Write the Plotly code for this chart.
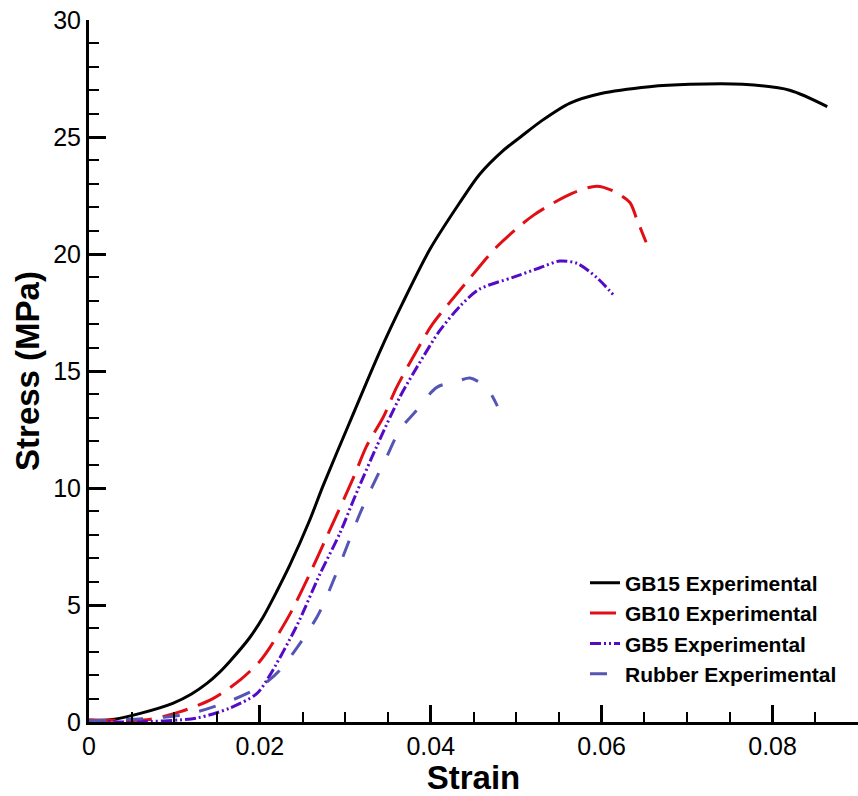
import plotly.graph_objects as go

# ---- data ----
gb15_strain = [0, 0.003, 0.006, 0.0098, 0.012, 0.0138, 0.0152, 0.0165, 0.0188, 0.0204, 0.022, 0.0235,
               0.0258, 0.0274, 0.0305, 0.034, 0.0367, 0.0399, 0.0434, 0.0457, 0.0484,
               0.0505, 0.053, 0.0563, 0.0598, 0.0656, 0.0703, 0.0765, 0.082, 0.0864]
gb15_stress = [0.05, 0.12, 0.37, 0.8, 1.2, 1.65, 2.1, 2.6, 3.6, 4.5, 5.6, 6.7,
               8.6, 10.1, 12.8, 15.8, 17.9, 20.2, 22.2, 23.4, 24.4,
               25.0, 25.7, 26.45, 26.85, 27.15, 27.25, 27.25, 27.0, 26.3]

gb10_strain = [0, 0.0068, 0.0106, 0.0145, 0.0177, 0.02, 0.0212, 0.0235, 0.0258, 0.0278,
               0.0309, 0.0325, 0.0344, 0.036, 0.0384, 0.0402, 0.0442, 0.0477, 0.052,
               0.0566, 0.0594, 0.0613, 0.0633, 0.0641, 0.0652]
gb10_stress = [0.1, 0.1, 0.43, 1.0, 1.8, 2.6, 3.2, 4.6, 6.3, 7.9,
               10.4, 11.8, 13.0, 14.3, 15.9, 17.0, 18.8, 20.3, 21.65,
               22.6, 22.9, 22.7, 22.2, 21.5, 20.5]

gb5_strain = [0, 0.005, 0.0126, 0.0165, 0.0196, 0.021, 0.0243, 0.027, 0.0294, 0.0312,
              0.0337, 0.0364, 0.0391, 0.041, 0.0435, 0.0457, 0.0496, 0.0527, 0.0551,
              0.0571, 0.0594, 0.0615]
gb5_stress = [0.05, 0.0, 0.17, 0.6, 1.2, 1.9, 4.1, 6.3, 8.1, 9.7,
              11.8, 13.9, 15.6, 16.7, 17.8, 18.5, 19.0, 19.4, 19.7,
              19.6, 19.0, 18.2]

rubber_strain = [0, 0.0087, 0.0126, 0.0165, 0.02, 0.0223, 0.0267, 0.029, 0.0305, 0.0317,
                 0.0332, 0.0348, 0.0364, 0.0383, 0.0407, 0.0434, 0.0446, 0.0465, 0.0478]
rubber_stress = [0.05, 0.2, 0.43, 0.9, 1.5, 2.2, 4.5, 6.4, 7.8, 8.9,
                 10.1, 11.3, 12.5, 13.3, 14.3, 14.6, 14.7, 14.3, 13.5]

series_names = ["GB15 Experimental", "GB10 Experimental", "GB5 Experimental", "Rubber Experimental"]

x_tickvals = [0, 0.02, 0.04, 0.06, 0.08]
x_ticktext = ["0", "0.02", "0.04", "0.06", "0.08"]
y_tickvals = [0, 5, 10, 15, 20, 25, 30]
y_ticktext = ["0", "5", "10", "15", "20", "25", "30"]

FONT = "Liberation Sans, Arial, sans-serif"

fig = go.Figure()
fig.add_trace(go.Scatter(x=gb15_strain, y=gb15_stress, mode="lines", name=series_names[0],
                         line=dict(color="black", width=3, dash="solid", shape="spline", smoothing=0.8)))
fig.add_trace(go.Scatter(x=gb10_strain, y=gb10_stress, mode="lines", name=series_names[1],
                         line=dict(color="rgb(225,15,20)", width=3, dash="26px,11px",
                                   shape="spline", smoothing=0.8)))
fig.add_trace(go.Scatter(x=gb5_strain, y=gb5_stress, mode="lines", name=series_names[2],
                         line=dict(color="rgb(85,10,200)", width=3,
                                   dash="11px,3px,2px,3px,2px,3px", shape="spline", smoothing=0.8)))
fig.add_trace(go.Scatter(x=rubber_strain, y=rubber_stress, mode="lines", name=series_names[3],
                         line=dict(color="rgb(85,85,180)", width=3, dash="17px,20px",
                                   shape="spline", smoothing=0.8)))

axis_common = dict(
    showline=True, linecolor="black", linewidth=3, mirror=False,
    showgrid=False, zeroline=False,
    ticks="inside", ticklen=17, tickwidth=3, tickcolor="black",
    tickfont=dict(family=FONT, size=25, color="black"),
)

fig.update_xaxes(
    range=[0, 0.09], tickvals=x_tickvals, ticktext=x_ticktext,
    minor=dict(ticks="inside", dtick=0.005, tick0=0, ticklen=10, tickwidth=2, tickcolor="black"),
    title=dict(text="<b>Strain</b>", font=dict(family=FONT, size=33, color="black"), standoff=6),
    **axis_common,
)
fig.update_yaxes(
    range=[0, 30], tickvals=y_tickvals, ticktext=y_ticktext,
    minor=dict(ticks="inside", dtick=1, tick0=0, ticklen=10, tickwidth=2, tickcolor="black"),
    title=dict(text="<b>Stress (MPa)</b>", font=dict(family=FONT, size=33, color="black"), standoff=4),
    **axis_common,
)

fig.update_layout(
    width=858, height=796,
    margin=dict(l=89, r=0, t=20, b=74),
    plot_bgcolor="white", paper_bgcolor="white",
    showlegend=True,
    legend=dict(
        x=0.645, y=0.227, xanchor="left", yanchor="top",
        bgcolor="rgba(255,255,255,0)",
        font=dict(family=FONT, size=21, color="black", weight="bold"),
        tracegroupgap=0,
    ),
)

fig.write_html("out.html")
